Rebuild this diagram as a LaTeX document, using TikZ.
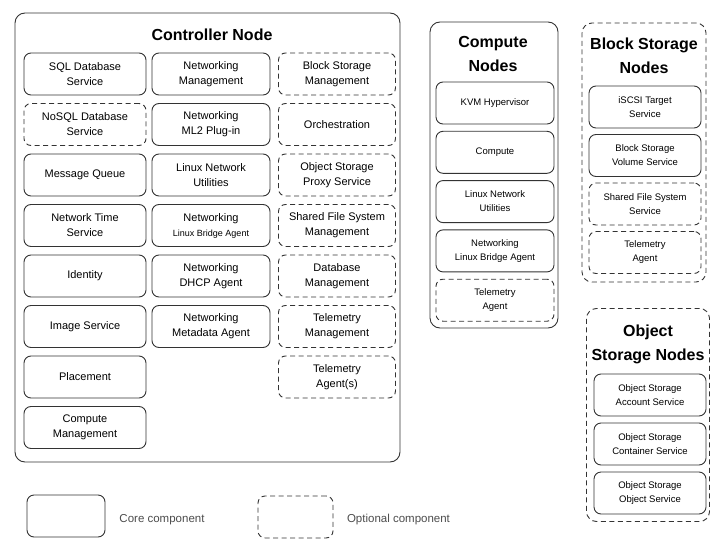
\documentclass[tikz,border=0pt]{standalone}
\usepackage{fontspec}
\setmainfont{Liberation Sans}
\usepackage{tikz}
\tikzstyle{core} = [draw=black!80, line width=0.9pt, rectangle,
    rounded corners=7pt, minimum height=42pt, align=center,
    inner sep=1pt, font=\fontsize{11}{15}\selectfont]
\tikzstyle{optional} = [core, dash pattern=on 5pt off 3.5pt]
\tikzstyle{group} = [draw=black!80, line width=0.9pt, rectangle, rounded corners=10pt]
\tikzstyle{optgroup} = [group, dash pattern=on 5pt off 3.5pt]
\tikzstyle{heading} = [align=center, font=\fontsize{16}{24}\selectfont\bfseries]
\tikzstyle{small} = [font=\fontsize{9.5}{14}\selectfont]
\tikzstyle{legend} = [text=black!70, font=\fontsize{11.5}{14}\selectfont]

\begin{document}
\begin{tikzpicture}[x=1pt, y=1pt, node distance=50.5pt]
    \useasboundingbox (0,0) rectangle (711,-540);

    % % % % % % % % % % % % % % % % % % % % % % %
    % Controller node
    % % % % % % % % % % % % % % % % % % % % % % %
    \node [group, minimum width=385pt, minimum height=449pt] (controller) at (207.5,-237.5) {};
    \node [heading] (ctrltitle) at (212,-35) {Controller Node};

    % first column
    \node [core, minimum width=122pt] (sql) at (85,-74) {SQL Database\\Service};
    \node [optional, minimum width=122pt, below of=sql] (nosql) {NoSQL Database\\Service};
    \node [core, minimum width=122pt, below of=nosql] (queue) {Message Queue};
    \node [core, minimum width=122pt, below of=queue] (ntp) {Network Time\\Service};
    \node [core, minimum width=122pt, below of=ntp] (identity) {Identity};
    \node [core, minimum width=122pt, below of=identity] (image) {Image Service};
    \node [core, minimum width=122pt, below of=image] (placement) {Placement};
    \node [core, minimum width=122pt, below of=placement] (computemgmt) {Compute\\Management};

    % second column
    \node [core, minimum width=118pt, right of=sql, node distance=126pt] (netmgmt) {Networking\\Management};
    \node [core, minimum width=118pt, below of=netmgmt] (ml2) {Networking\\ML2 Plug-in};
    \node [core, minimum width=118pt, below of=ml2] (netutil) {Linux Network\\Utilities};
    \node [core, minimum width=118pt, below of=netutil] (bridge) {Networking\\{\small Linux Bridge Agent}};
    \node [core, minimum width=118pt, below of=bridge] (dhcp) {Networking\\DHCP Agent};
    \node [core, minimum width=118pt, below of=dhcp] (metadata) {Networking\\Metadata Agent};

    % third column, all optional
    \node [optional, minimum width=117pt, right of=netmgmt, node distance=126pt] (blockmgmt) {Block Storage\\Management};
    \node [optional, minimum width=117pt, below of=blockmgmt] (orch) {Orchestration};
    \node [optional, minimum width=117pt, below of=orch] (proxy) {Object Storage\\Proxy Service};
    \node [optional, minimum width=117pt, below of=proxy] (sharedmgmt) {Shared File System\\Management};
    \node [optional, minimum width=117pt, below of=sharedmgmt] (dbmgmt) {Database\\Management};
    \node [optional, minimum width=117pt, below of=dbmgmt] (telemgmt) {Telemetry\\Management};
    \node [optional, minimum width=117pt, below of=telemgmt] (teleagents) {Telemetry\\Agent(s)};

    % % % % % % % % % % % % % % % % % % % % % % %
    % Compute nodes
    % % % % % % % % % % % % % % % % % % % % % % %
    \node [group, minimum width=128pt, minimum height=306pt] (compute) at (494,-175) {};
    \node [heading] (comptitle) at (493,-54) {Compute\\Nodes};

    \node [core, small, minimum width=118pt] (kvm) at (495,-103) {KVM Hypervisor};
    \node [core, small, minimum width=118pt, below of=kvm, node distance=49.3pt] (nova) {Compute};
    \node [core, small, minimum width=118pt, below of=nova, node distance=49.3pt] (cnetutil) {Linux Network\\Utilities};
    \node [core, small, minimum width=118pt, below of=cnetutil, node distance=49.3pt] (cbridge) {Networking\\Linux Bridge Agent};
    \node [optional, small, minimum width=118pt, below of=cbridge, node distance=49.3pt] (cagent) {Telemetry\\Agent};

    % % % % % % % % % % % % % % % % % % % % % % %
    % Block storage nodes
    % % % % % % % % % % % % % % % % % % % % % % %
    \node [optgroup, minimum width=124pt, minimum height=259pt] (block) at (644,-152.5) {};
    \node [heading] (blocktitle) at (644,-55.5) {Block Storage\\Nodes};

    \node [core, small, minimum width=112pt] (iscsi) at (645,-107) {iSCSI Target\\Service};
    \node [core, small, minimum width=112pt, below of=iscsi, node distance=48.5pt] (volume) {Block Storage\\Volume Service};
    \node [optional, small, minimum width=112pt, below of=volume, node distance=48.5pt] (shared) {Shared File System\\Service};
    \node [optional, small, minimum width=112pt, below of=shared, node distance=48.5pt] (bagent) {Telemetry\\Agent};

    % % % % % % % % % % % % % % % % % % % % % % %
    % Object storage nodes
    % % % % % % % % % % % % % % % % % % % % % % %
    \node [optgroup, minimum width=123pt, minimum height=213pt] (object) at (648,-415) {};
    \node [heading] (objtitle) at (648,-344.5) {Object\\Storage Nodes};

    \node [core, small, minimum width=112pt] (account) at (650,-395) {Object Storage\\Account Service};
    \node [core, small, minimum width=112pt, below of=account, node distance=49pt] (container) {Object Storage\\Container Service};
    \node [core, small, minimum width=112pt, below of=container, node distance=49pt] (objsrv) {Object Storage\\Object Service};

    % % % % % % % % % % % % % % % % % % % % % % %
    % Legend
    % % % % % % % % % % % % % % % % % % % % % % %
    \node [core, minimum width=78pt] (corekey) at (66,-516) {};
    \node [legend, right of=corekey, node distance=96pt, yshift=-4pt] (coretext) {Core component};
    \node [optional, minimum width=75pt] (optkey) at (295.5,-517) {};
    \node [legend, right of=optkey, node distance=103pt, yshift=-3pt] (opttext) {Optional component};

\end{tikzpicture}
\end{document}
